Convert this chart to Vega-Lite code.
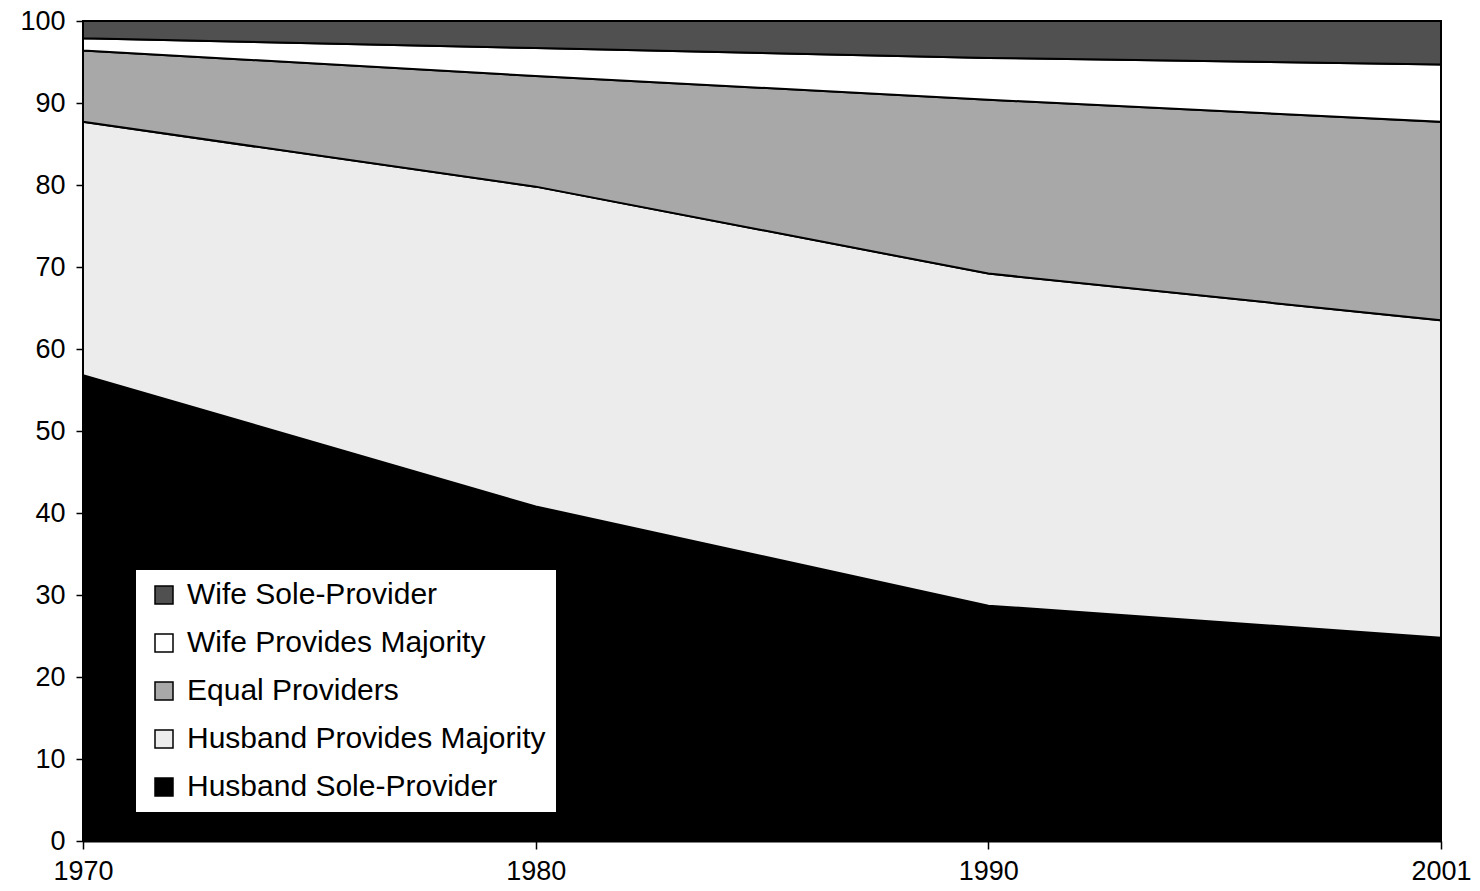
{
  "$schema": "https://vega.github.io/schema/vega-lite/v6.json",
  "width": 1358,
  "height": 820,
  "autosize": {"type": "none"},
  "padding": {"left": 83, "top": 21, "right": 39, "bottom": 50},
  "background": "white",
  "config": {
    "view": {"stroke": null},
    "font": "Liberation Sans",
    "axis": {
      "labelFont": "Liberation Sans",
      "labelColor": "black",
      "domainColor": "black",
      "tickColor": "black",
      "grid": false,
      "title": null
    }
  },
  "data": {
    "values": [
      {"year": "1970", "type": "Husband Sole-Provider", "rank": 1, "pct": 56.8},
      {"year": "1970", "type": "Husband Provides Majority", "rank": 2, "pct": 30.9},
      {"year": "1970", "type": "Equal Providers", "rank": 3, "pct": 8.7},
      {"year": "1970", "type": "Wife Provides Majority", "rank": 4, "pct": 1.5},
      {"year": "1970", "type": "Wife Sole-Provider", "rank": 5, "pct": 2.1},
      {"year": "1980", "type": "Husband Sole-Provider", "rank": 1, "pct": 40.8},
      {"year": "1980", "type": "Husband Provides Majority", "rank": 2, "pct": 39.0},
      {"year": "1980", "type": "Equal Providers", "rank": 3, "pct": 13.5},
      {"year": "1980", "type": "Wife Provides Majority", "rank": 4, "pct": 3.4},
      {"year": "1980", "type": "Wife Sole-Provider", "rank": 5, "pct": 3.3},
      {"year": "1990", "type": "Husband Sole-Provider", "rank": 1, "pct": 28.7},
      {"year": "1990", "type": "Husband Provides Majority", "rank": 2, "pct": 40.5},
      {"year": "1990", "type": "Equal Providers", "rank": 3, "pct": 21.2},
      {"year": "1990", "type": "Wife Provides Majority", "rank": 4, "pct": 5.1},
      {"year": "1990", "type": "Wife Sole-Provider", "rank": 5, "pct": 4.5},
      {"year": "2001", "type": "Husband Sole-Provider", "rank": 1, "pct": 24.8},
      {"year": "2001", "type": "Husband Provides Majority", "rank": 2, "pct": 38.7},
      {"year": "2001", "type": "Equal Providers", "rank": 3, "pct": 24.2},
      {"year": "2001", "type": "Wife Provides Majority", "rank": 4, "pct": 7.0},
      {"year": "2001", "type": "Wife Sole-Provider", "rank": 5, "pct": 5.3}
    ]
  },
  "mark": {"type": "area", "stroke": "black", "strokeWidth": 2, "strokeJoin": "miter", "opacity": 1, "fillOpacity": 1},
  "encoding": {
    "x": {
      "field": "year",
      "type": "ordinal",
      "scale": {"type": "point", "padding": 0},
      "axis": {
        "labelAngle": 0,
        "labelFontSize": 27,
        "tickSize": 8,
        "tickWidth": 1.5,
        "labelPadding": 9,
        "domainWidth": 2
      }
    },
    "y": {
      "field": "pct",
      "type": "quantitative",
      "stack": "zero",
      "scale": {"domain": [0, 100], "nice": false},
      "axis": {
        "values": [0, 10, 20, 30, 40, 50, 60, 70, 80, 90, 100],
        "labelFontSize": 27,
        "tickSize": 7,
        "tickWidth": 1.5,
        "domainWidth": 2,
        "labelPadding": 11
      }
    },
    "color": {
      "field": "type",
      "type": "nominal",
      "scale": {
        "domain": ["Wife Sole-Provider", "Wife Provides Majority", "Equal Providers", "Husband Provides Majority", "Husband Sole-Provider"],
        "range": ["#505050", "#ffffff", "#a8a8a8", "#ececec", "#000000"]
      },
      "legend": {
        "title": null,
        "orient": "none",
        "legendX": 53,
        "legendY": 549,
        "fillColor": "white",
        "padding": 10,
        "symbolType": "square",
        "symbolSize": 324,
        "symbolStrokeColor": "black",
        "symbolStrokeWidth": 1.5,
        "symbolOffset": 3,
        "labelFont": "Liberation Sans",
        "labelFontSize": 30,
        "labelColor": "black",
        "labelOffset": 8,
        "labelLimit": 600,
        "rowPadding": 18
      }
    },
    "order": {"field": "rank", "type": "quantitative", "sort": "ascending"}
  }
}
